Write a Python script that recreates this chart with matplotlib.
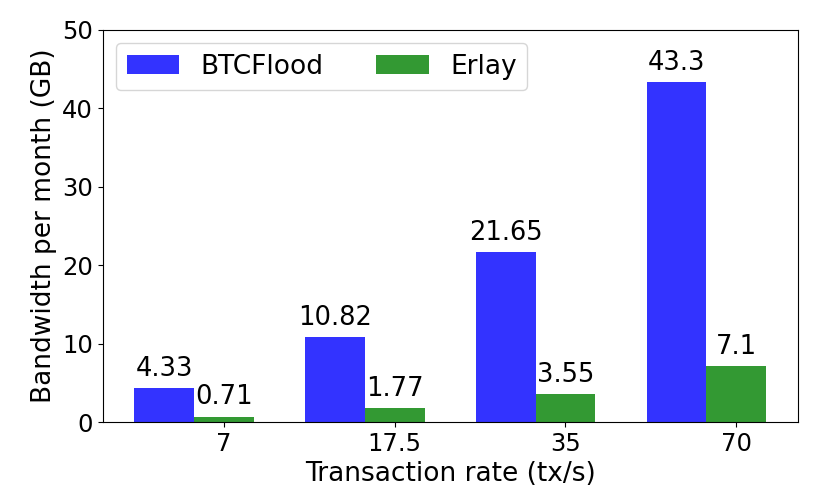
import matplotlib
matplotlib.use('Agg')
import matplotlib.pyplot as plt
import numpy as np

# Data
rates = ['7', '17.5', '35', '70']
btcflood = [4.33, 10.82, 21.65, 43.3]
erlay = [0.71, 1.77, 3.55, 7.1]

fig, ax = plt.subplots(figsize=(8.3, 4.99), dpi=100)
x = np.arange(len(rates))
width = 0.35

# blue bar left of the tick, green bar centred on the tick
bars1 = ax.bar(x - width, btcflood, width, color='b', alpha=0.8, label='BTCFlood')
bars2 = ax.bar(x, erlay, width, color='g', alpha=0.8, label='Erlay')

# value labels on top of each bar
for bars, vals in ((bars1, btcflood), (bars2, erlay)):
    for b, v in zip(bars, vals):
        ax.text(b.get_x() + b.get_width() / 2, b.get_height() + 0.8, str(v),
                ha='center', va='bottom', fontsize=18.5)

ax.set_xticks(x)
ax.set_xticklabels(rates)
ax.tick_params(labelsize=17.5)
ax.set_ylim(0, 50)
ax.set_xlabel('Transaction rate (tx/s)', fontsize=19)
ax.set_ylabel('Bandwidth per month (GB)', fontsize=19)
ax.legend(loc='upper left', ncol=2, fontsize=19)

fig.subplots_adjust(left=0.124, right=0.961, top=0.94, bottom=0.154)
fig.savefig('out.png')
